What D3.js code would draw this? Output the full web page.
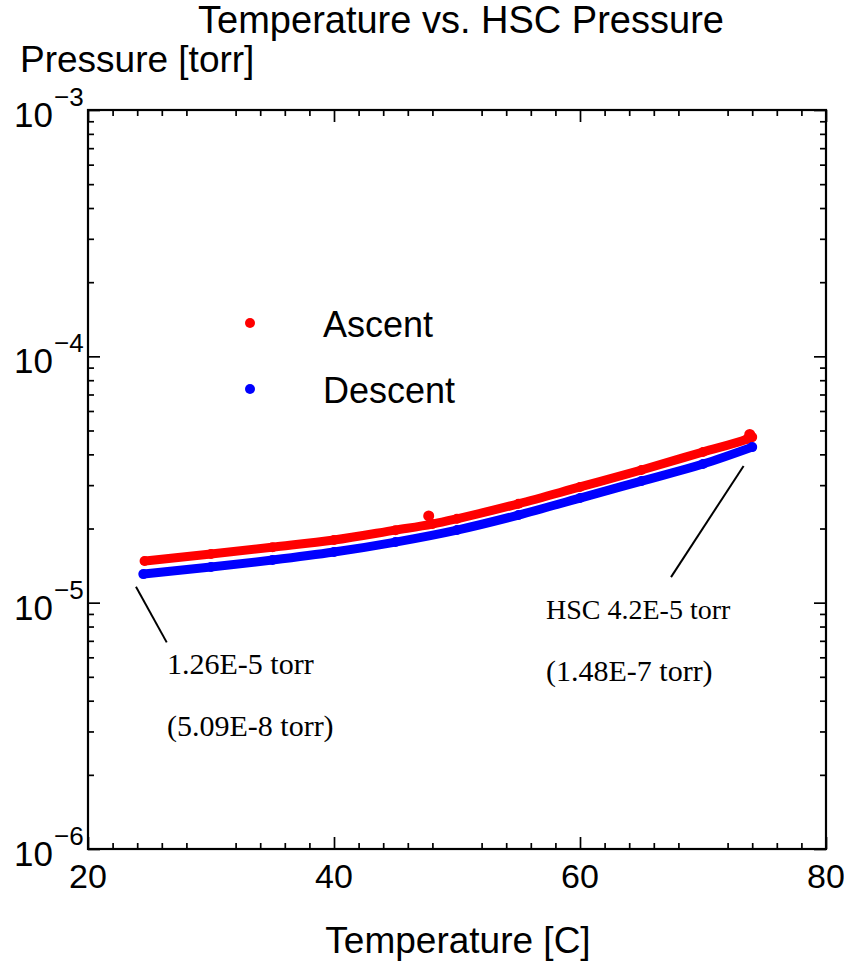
<!DOCTYPE html>
<html>
<head>
<meta charset="utf-8">
<script src="https://cdn.jsdelivr.net/npm/d3@7"></script>
<style>
  body { margin: 0; background: #fff; }
  svg { font-family: "Liberation Sans", Arial, sans-serif; }
</style>
</head>
<body>
<div id="chart"></div>
<script>
// values
const ascentTemp = [24.6, 30, 35, 40, 45, 48, 50, 55, 60, 65, 70, 73.6, 74];
const ascentP = [1.475e-5, 1.575e-5, 1.68e-5, 1.795e-5, 1.97e-5, 2.085e-5, 2.19e-5, 2.52e-5, 2.95e-5, 3.455e-5, 4.09e-5, 4.62e-5, 4.70e-5];
const ascentOddTemp = [47.7, 73.8];
const ascentOddP = [2.25e-5, 4.82e-5];
const descentTemp = [24.5, 30, 35, 40, 45, 50, 55, 60, 65, 70, 74];
const descentP = [1.306e-5, 1.395e-5, 1.489e-5, 1.605e-5, 1.762e-5, 1.971e-5, 2.268e-5, 2.658e-5, 3.116e-5, 3.653e-5, 4.28e-5];

const xMajor = [20, 40, 60, 80];
const yMajor = [1e-6, 1e-5, 1e-4, 1e-3];
const yExp = ["\u22126", "\u22125", "\u22124", "\u22123"];

const seriesNames = ["Ascent", "Descent"];
const seriesColors = ["#ff0000", "#0000ff"];

// annotation lines [temp, pressure] pairs and notes
const noteLines = [
    [[23.9, 1.16e-5], [26.4, 6.9e-6]],
    [[73.3, 3.59e-5], [67.4, 1.27e-5]]
];
const noteText = [["1.26E-5 torr", "(5.09E-8 torr)"], ["HSC 4.2E-5 torr", "(1.48E-7 torr)"]];

const W = 844, H = 963;
const pL = 88, pR = 826, pT = 110, pB = 849;

const svg = d3.select("#chart").append("svg")
    .attr("width", W)
    .attr("height", H);

const x = d3.scaleLinear().domain([20, 80]).range([pL, pR]);
const y = d3.scaleLog().domain([1e-6, 1e-3]).range([pB, pT]);

const xMinor = d3.range(20, 81, 2).filter(v => v % 10 !== 0);
const yMinor = [];
[1e-6, 1e-5, 1e-4].forEach(d => { for (let k = 2; k <= 9; k++) yMinor.push(d * k); });

function ticks(axisFn, scale, vals, size, tr) {
    const g = svg.append("g")
        .attr("transform", tr)
        .call(axisFn(scale).tickValues(vals).tickSize(size).tickFormat(""));
    g.select(".domain").remove();
    g.selectAll(".tick line").attr("stroke", "#000").attr("stroke-width", 1.7);
}

// inward ticks on all four sides
ticks(d3.axisBottom, x, xMajor, -12, `translate(0,${pB})`);
ticks(d3.axisBottom, x, xMinor, -6, `translate(0,${pB})`);
ticks(d3.axisTop, x, xMajor, -12, `translate(0,${pT})`);
ticks(d3.axisTop, x, xMinor, -6, `translate(0,${pT})`);
ticks(d3.axisLeft, y, yMajor, -12, `translate(${pL},0)`);
ticks(d3.axisLeft, y, yMinor, -6, `translate(${pL},0)`);
ticks(d3.axisRight, y, yMajor, -12, `translate(${pR},0)`);
ticks(d3.axisRight, y, yMinor, -6, `translate(${pR},0)`);

svg.append("rect")
    .attr("x", pL).attr("y", pT)
    .attr("width", pR - pL).attr("height", pB - pT)
    .attr("fill", "none").attr("stroke", "#000").attr("stroke-width", 2.2);

// tick labels
svg.selectAll(".xlab").data(xMajor).enter().append("text")
    .attr("x", d => x(d)).attr("y", pB + 39)
    .attr("text-anchor", "middle")
    .attr("font-size", 34)
    .text(d => d);

yMajor.forEach((d, i) => {
    svg.append("text")
        .attr("x", pL - 35).attr("y", y(d) + 17)
        .attr("text-anchor", "end")
        .attr("font-size", 35)
        .text("10");
    svg.append("text")
        .attr("x", pL - 34).attr("y", y(d) - 4)
        .attr("font-size", 26)
        .text(yExp[i]);
});

// data
const line = d3.line().x(d => x(d[0])).y(d => y(d[1])).curve(d3.curveMonotoneX);
const series = [
    d3.zip(ascentTemp, ascentP),
    d3.zip(descentTemp, descentP)
];

series.forEach((pts, i) => {
    svg.append("path")
        .datum(pts)
        .attr("d", line)
        .attr("fill", "none")
        .attr("stroke", seriesColors[i])
        .attr("stroke-width", 9)
        .attr("stroke-linecap", "round");
    svg.selectAll(null).data(pts).enter().append("circle")
        .attr("cx", d => x(d[0])).attr("cy", d => y(d[1]))
        .attr("r", 5)
        .attr("fill", seriesColors[i]);
});

svg.selectAll(null).data(d3.zip(ascentOddTemp, ascentOddP)).enter().append("circle")
    .attr("cx", d => x(d[0])).attr("cy", d => y(d[1]))
    .attr("r", 5.5)
    .attr("fill", seriesColors[0]);

// legend
seriesNames.forEach((n, i) => {
    svg.append("circle")
        .attr("cx", 250).attr("cy", 323 + i * 66)
        .attr("r", 5)
        .attr("fill", seriesColors[i]);
    svg.append("text")
        .attr("x", 323).attr("y", 337 + i * 66)
        .attr("font-size", 36)
        .text(n);
});

// annotations
noteLines.forEach(l => {
    svg.append("line")
        .attr("x1", x(l[0][0])).attr("y1", y(l[0][1]))
        .attr("x2", x(l[1][0])).attr("y2", y(l[1][1]))
        .attr("stroke", "#000").attr("stroke-width", 2);
});
const notePos = [[167, 674], [546, 619]];
const noteSize = [[30, 30], [28, 30]];
noteText.forEach((t, i) => {
    t.forEach((s, j) => {
        svg.append("text")
            .attr("x", notePos[i][0]).attr("y", notePos[i][1] + j * 62)
            .attr("font-family", "'Liberation Serif', 'Times New Roman', serif")
            .attr("font-size", noteSize[i][j])
            .text(s);
    });
});

// titles
svg.append("text")
    .attr("x", 461).attr("y", 33)
    .attr("text-anchor", "middle")
    .attr("font-size", 38)
    .text("Temperature vs. HSC Pressure");

svg.append("text")
    .attr("x", 20).attr("y", 72)
    .attr("font-size", 37)
    .text("Pressure [torr]");

svg.append("text")
    .attr("x", 458).attr("y", 953)
    .attr("text-anchor", "middle")
    .attr("font-size", 37)
    .text("Temperature [C]");
</script>
</body>
</html>
